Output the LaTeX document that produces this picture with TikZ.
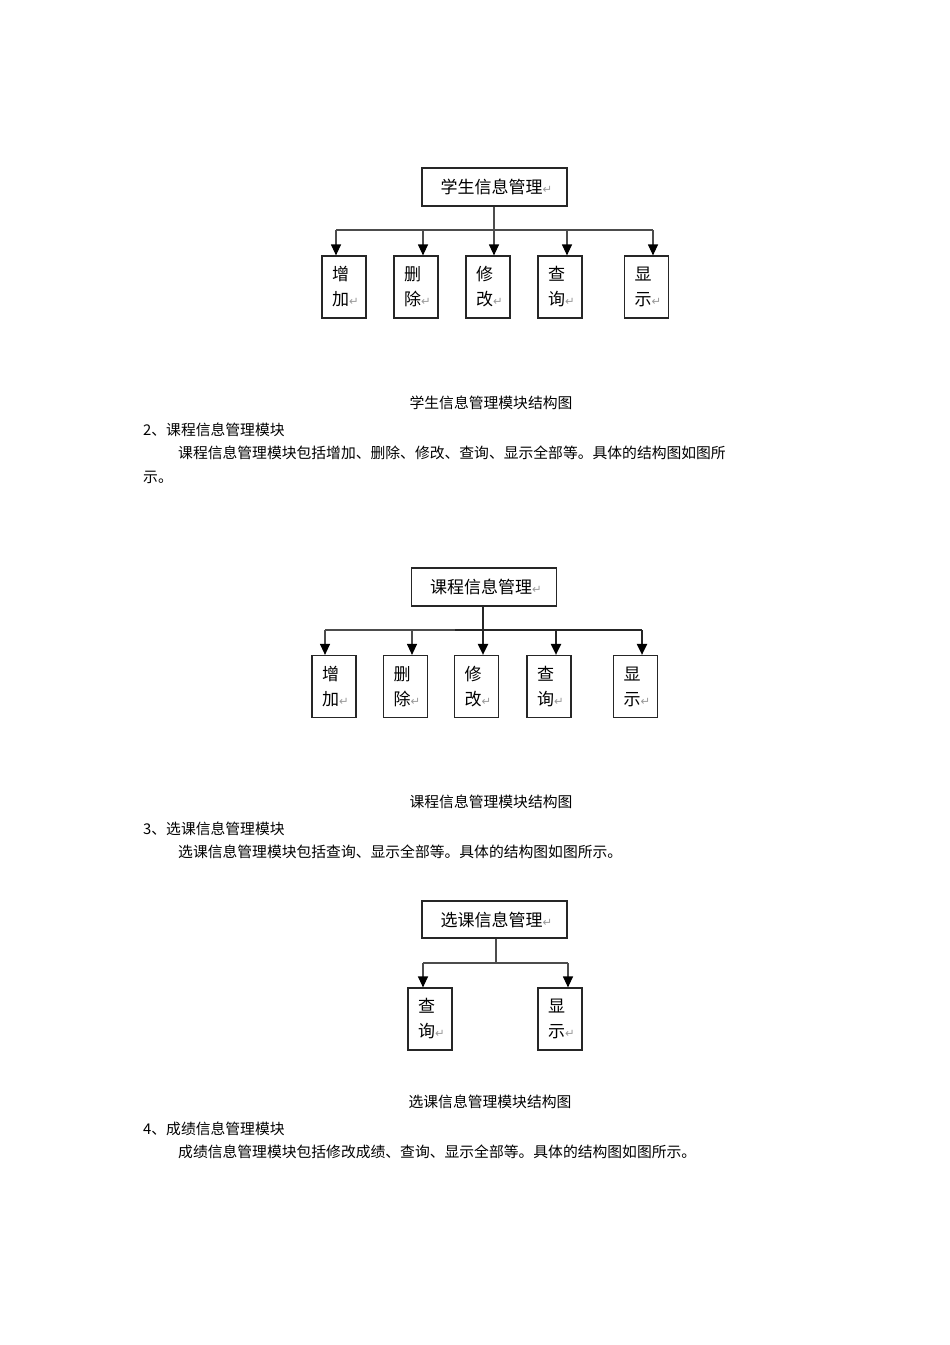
\documentclass[tikz,border=0pt]{standalone}
\usepackage{fontspec}
\setmainfont{Noto Sans CJK SC}
\newfontfamily\symfont{DejaVu Sans}
\usetikzlibrary{arrows.meta}
\newcommand{\pmark}{{\symfont\fontsize{11.5}{11.5}\selectfont\color{black!40}↵}}
\begin{document}
\begin{tikzpicture}[x=1pt,y=-1pt,
  topbox/.style={draw=black!85, line width=1.2pt, minimum width=145pt, minimum height=38pt, inner sep=0pt, font=\fontsize{17}{20}\selectfont},
  leafbox/.style={draw=black!85, line width=1.2pt, minimum width=44pt, minimum height=62pt, text width=24pt, inner xsep=10pt, inner ysep=0pt, align=left, font=\fontsize{17}{25}\selectfont},
  conn/.style={draw=black!70, line width=1.2pt},
  thick conn/.style={draw=black!85, line width=2pt},
  arr/.style={conn, -{Triangle[width=10pt,length=11pt,color=black,fill=black]}},
  thick arr/.style={thick conn, -{Triangle[width=10pt,length=11pt,color=black,fill=black]}},
  body/.style={anchor=west, inner sep=0pt, font=\fontsize{14.8}{18}\selectfont},
  caption/.style={inner sep=0pt, font=\fontsize{14.8}{18}\selectfont}
]
\useasboundingbox (0,0) rectangle (950,1345);
\fill[white] (0,0) rectangle (950,1345);

% ---------- Diagram 1 ----------
\node[topbox] (s) at (494.5,187) {\hspace*{4pt}学生信息管理\pmark};
\node[leafbox] (s1) at (344,287) {增\\加\pmark};
\node[leafbox] (s2) at (416,287) {删\\除\pmark};
\node[leafbox] (s3) at (488,287) {修\\改\pmark};
\node[leafbox] (s4) at (560,287) {查\\询\pmark};
\node[leafbox] (s5) at (646.5,287) {显\\示\pmark};
\coordinate (sj) at (494,230);
\coordinate (sa1) at (336,230);
\coordinate (sa2) at (423,230);
\coordinate (sa3) at (494,230);
\coordinate (sa4) at (567,230);
\coordinate (sa5) at (653,230);
\draw[conn] (s.south -| sj) -- (sj);
\draw[conn] (sa1) -- (sa5);
\draw[arr] (sa1) -- (sa1 |- s1.north);
\draw[arr] (sa2) -- (sa2 |- s2.north);
\draw[arr] (sa3) -- (sa3 |- s3.north);
\draw[arr] (sa4) -- (sa4 |- s4.north);
\draw[arr] (sa5) -- (sa5 |- s5.north);

\node[caption] (cap1) at (491,403) {学生信息管理模块结构图};
\node[body] (h2) at (143,430) {2、课程信息管理模块};
\node[body] (p2a) at (178,453) {课程信息管理模块包括增加、删除、修改、查询、显示全部等。具体的结构图如图所};
\node[body] (p2b) at (143,477) {示。};

% ---------- Diagram 2 ----------
\node[topbox] (k) at (484,587) {\hspace*{4pt}课程信息管理\pmark};
\node[leafbox] (k1) at (334,686.5) {增\\加\pmark};
\node[leafbox] (k2) at (405.5,686.5) {删\\除\pmark};
\node[leafbox] (k3) at (476.5,686.5) {修\\改\pmark};
\node[leafbox] (k4) at (549,686.5) {查\\询\pmark};
\node[leafbox] (k5) at (635.5,686.5) {显\\示\pmark};
\coordinate (kj) at (483,630);
\coordinate (km) at (455,630);
\coordinate (ka1) at (325,630);
\coordinate (ka2) at (412,630);
\coordinate (ka3) at (483,630);
\coordinate (ka4) at (556,630);
\coordinate (ka5) at (642,630);
\draw[conn] (ka1) -- (km);
\draw[thick conn] (km) -- (ka5);
\draw[thick conn] (k.south -| kj) -- (kj);
\draw[arr] (ka1) -- (ka1 |- k1.north);
\draw[arr] (ka2) -- (ka2 |- k2.north);
\draw[thick arr] (ka3) -- (ka3 |- k3.north);
\draw[thick arr] (ka4) -- (ka4 |- k4.north);
\draw[thick arr] (ka5) -- (ka5 |- k5.north);

\node[caption] (cap2) at (491,802) {课程信息管理模块结构图};
\node[body] (h3) at (143,829) {3、选课信息管理模块};
\node[body] (p3) at (178,852) {选课信息管理模块包括查询、显示全部等。具体的结构图如图所示。};

% ---------- Diagram 3 ----------
\node[topbox, minimum height=37pt] (x) at (494.5,919.5) {\hspace*{4pt}选课信息管理\pmark};
\node[leafbox] (x1) at (430,1019) {查\\询\pmark};
\node[leafbox] (x2) at (560,1019) {显\\示\pmark};
\coordinate (xj) at (496,963);
\coordinate (xa1) at (423,963);
\coordinate (xa2) at (568,963);
\draw[conn] (x.south -| xj) -- (xj);
\draw[conn] (xa1) -- (xa2);
\draw[arr] (xa1) -- (xa1 |- x1.north);
\draw[arr] (xa2) -- (xa2 |- x2.north);

\node[caption] (cap3) at (490,1102) {选课信息管理模块结构图};
\node[body] (h4) at (143,1129) {4、成绩信息管理模块};
\node[body] (p4) at (178,1152) {成绩信息管理模块包括修改成绩、查询、显示全部等。具体的结构图如图所示。};
\end{tikzpicture}
\end{document}
